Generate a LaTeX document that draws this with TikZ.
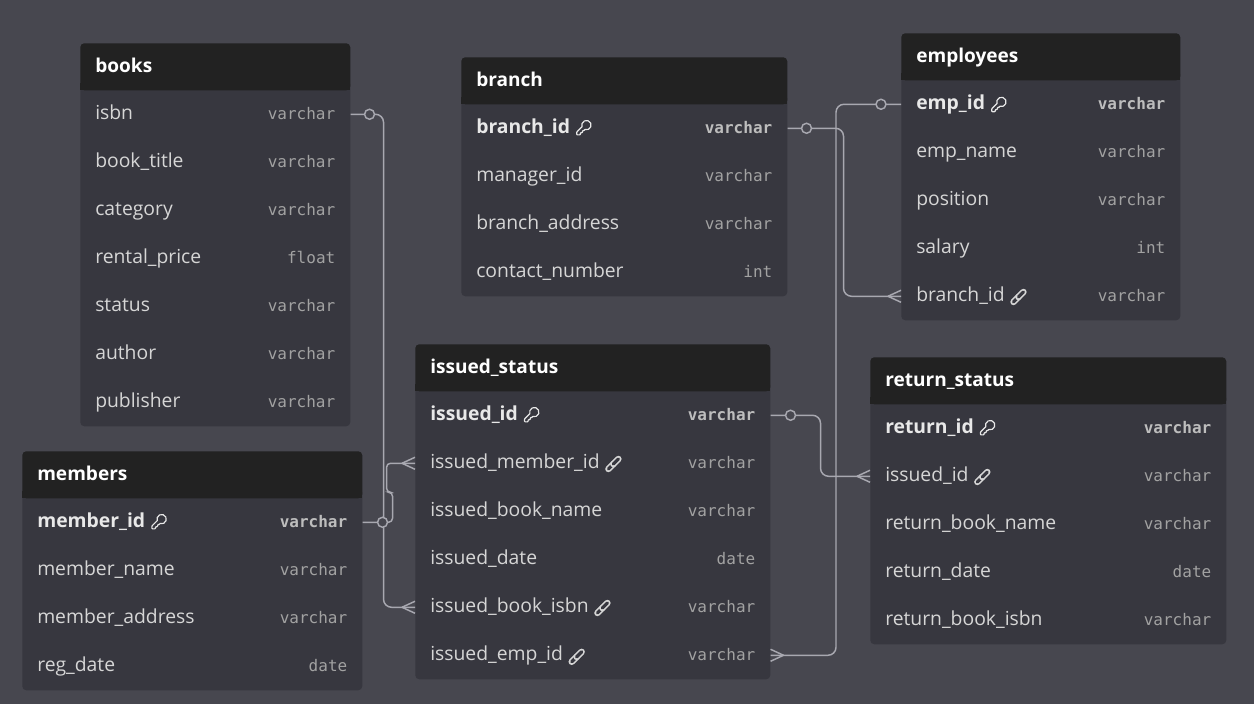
\documentclass[tikz,border=0pt]{standalone}
\usepackage{fontspec}
\setmainfont{Open Sans}
\newfontfamily\monof{DejaVu Sans Mono}
\usetikzlibrary{calc}
\definecolor{bgc}{HTML}{47474F}
\definecolor{bodyc}{HTML}{37373F}
\definecolor{hdrc}{HTML}{222222}
\definecolor{namec}{HTML}{D6D6D6}
\definecolor{pkc}{HTML}{E8E8E8}
\definecolor{typec}{HTML}{A2A2A2}
\definecolor{pktypec}{HTML}{BDBDBD}
\definecolor{linec}{HTML}{A8A8B0}
\tikzset{
  hdrbox/.style={fill=hdrc, rounded corners=3pt, minimum height=47*0.75pt, inner sep=0pt, draw=none},
  bodybox/.style={fill=bodyc, rounded corners=3pt, inner sep=0pt, draw=none},
  rowbox/.style={minimum height=48*0.75pt, inner sep=0pt, draw=none},
  nametext/.style={text=namec, font=\fontsize{14.5}{16}\selectfont, inner sep=0pt},
  pktext/.style={text=pkc, font=\bfseries\fontsize{14.5}{16}\selectfont, inner sep=0pt},
  typetext/.style={text=typec, font=\monof\fontsize{12}{14}\selectfont, inner sep=0pt},
  pktypetext/.style={text=pktypec, font=\monof\bfseries\fontsize{12}{14}\selectfont, inner sep=0pt},
  titletext/.style={text=white, font=\bfseries\fontsize{14.3}{16}\selectfont, inner sep=0pt},
  conn/.style={draw=linec, line width=1.1pt, rounded corners=6pt},
  footline/.style={draw=linec, line width=1.1pt},
  onecirc/.style={circle, draw=linec, fill=bgc, line width=1.1pt, minimum size=10*0.75pt, inner sep=0pt},
  keyicon/.pic={
    \draw[pkc, line width=0.9pt, line join=round, scale=0.72]
      (2.586,17.414) -- (2,18.83) -- (2,21) -- (3,22) -- (6,22) -- (7,21) -- (7,20) -- (8,19)
      -- (9,19) -- (10,18) -- (10,17) -- (11,16) -- (11.9,16) -- (12.586,15.414) -- (13.4,14.6)
      arc[start angle=109.2, end angle=-199.2, radius=6.5] -- cycle;
  },
  linkicon/.pic={
    \draw[namec, line width=4.8pt, line cap=round] (2.5,12.5) -- (7.6,7.4);
    \draw[bodyc, line width=2.4pt, line cap=round] (2.5,12.5) -- (7.6,7.4);
    \draw[namec, line width=4.8pt, line cap=round] (7.4,7.6) -- (12.5,2.5);
    \draw[bodyc, line width=2.4pt, line cap=round] (7.4,7.6) -- (12.5,2.5);
  }
}
% #1 id, #2 x, #3 y, #4 width, #5 rows, #6 title, #7 rows list
\newcommand\ertable[7]{%
  \node[bodybox, minimum width=#4*0.75pt, minimum height={(48*#5+10)*0.75pt}, anchor=north west] (#1-body) at (#2,#3+37) {};
  \node[hdrbox, minimum width=#4*0.75pt, anchor=north west] (#1) at (#2,#3) {};
  \fill[hdrc] (#2,#3+40) rectangle (#2+#4,#3+47);
  \node[titletext, anchor=mid west] (#1-title) at ($(#1.west)+(15,2)$) {#6};
  \foreach \k/\lab/\typ/\fl [count=\i from 0] in {#7} {
    \node[rowbox, minimum width=#4*0.75pt, anchor=north west] (#1-\k) at (#2,#3+47+48*\i) {};
    \ifcase\fl\relax
      \node[nametext, anchor=mid west] (#1-\k-lab) at ($(#1-\k.west)+(15,2)$) {\lab};
      \node[typetext, anchor=mid east] (#1-\k-typ) at ($(#1-\k.east)+(-15,2)$) {\typ};
    \or
      \node[pktext, anchor=mid west] (#1-\k-lab) at ($(#1-\k.west)+(15,2)$) {\lab};
      \node[pktypetext, anchor=mid east] (#1-\k-typ) at ($(#1-\k.east)+(-15,2)$) {\typ};
      \pic at ($(#1-\k-lab.east)+(5,-9)$) {keyicon};
    \or
      \node[nametext, anchor=mid west] (#1-\k-lab) at ($(#1-\k.west)+(15,2)$) {\lab};
      \node[typetext, anchor=mid east] (#1-\k-typ) at ($(#1-\k.east)+(-15,2)$) {\typ};
      \pic at ($(#1-\k-lab.east)+(6,-6.5)$) {linkicon};
    \fi
  }
}
\newcommand\crowW[1]{\draw[footline] ($(#1)+(-13,0)$) -- ($(#1)+(0,-6)$) ($(#1)+(-13,0)$) -- ($(#1)+(0,6)$);}
\newcommand\crowE[1]{\draw[footline] ($(#1)+(13,0)$) -- ($(#1)+(0,-6)$) ($(#1)+(13,0)$) -- ($(#1)+(0,6)$);}
\begin{document}
\begin{tikzpicture}[x=0.75pt,y=-0.75pt]
\fill[bgc] (0,0) rectangle (1254,704);
\path[use as bounding box] (0,0) rectangle (1254,704);

\ertable{books}{80}{43}{270}{7}{books}{isbn/isbn/varchar/0, booktitle/book\_title/varchar/0, category/category/varchar/0, rentalprice/rental\_price/float/0, status/status/varchar/0, author/author/varchar/0, publisher/publisher/varchar/0}
\ertable{branch}{461}{57}{326}{4}{branch}{branchid/branch\_id/varchar/1, managerid/manager\_id/varchar/0, branchaddress/branch\_address/varchar/0, contactnumber/contact\_number/int/0}
\ertable{employees}{901}{33}{279}{5}{employees}{empid/emp\_id/varchar/1, empname/emp\_name/varchar/0, position/position/varchar/0, salary/salary/int/0, branchid/branch\_id/varchar/2}
\ertable{issued}{415}{344}{355}{6}{issued\_status}{issuedid/issued\_id/varchar/1, issuedmemberid/issued\_member\_id/varchar/2, issuedbookname/issued\_book\_name/varchar/0, issueddate/issued\_date/date/0, issuedbookisbn/issued\_book\_isbn/varchar/2, issuedempid/issued\_emp\_id/varchar/2}
\ertable{return}{870}{357}{356}{5}{return\_status}{returnid/return\_id/varchar/1, issuedid/issued\_id/varchar/2, returnbookname/return\_book\_name/varchar/0, returndate/return\_date/date/0, returnbookisbn/return\_book\_isbn/varchar/0}
\ertable{members}{22}{451}{340}{4}{members}{memberid/member\_id/varchar/1, membername/member\_name/varchar/0, memberaddress/member\_address/varchar/0, regdate/reg\_date/date/0}

% connectors
\draw[conn] (books-isbn.east) -- ++(33,0) |- (issued-issuedbookisbn.west);
\draw[conn, rounded corners=3pt] (members-memberid.east) -- ++(30,0) -- ++(0,-30) -- ++(-6,0) |- (issued-issuedmemberid.west);
\draw[conn] (branch-branchid.east) -- ++(56,0) |- (employees-branchid.west);
\draw[conn] (employees-empid.west) -- ++(-65,0) |- (issued-issuedempid.east);
\draw[conn] (issued-issuedid.east) -- ++(50,0) |- (return-issuedid.west);

\crowW{issued-issuedbookisbn.west}
\crowW{issued-issuedmemberid.west}
\crowW{employees-branchid.west}
\crowE{issued-issuedempid.east}
\crowW{return-issuedid.west}

\node[onecirc] (c1) at ($(books-isbn.east)+(19,0)$) {};
\node[onecirc] (c2) at ($(members-memberid.east)+(20,0)$) {};
\node[onecirc] (c3) at ($(branch-branchid.east)+(19,0)$) {};
\node[onecirc] (c4) at ($(employees-empid.west)+(-20,0)$) {};
\node[onecirc] (c5) at ($(issued-issuedid.east)+(20,0)$) {};
\end{tikzpicture}
\end{document}
